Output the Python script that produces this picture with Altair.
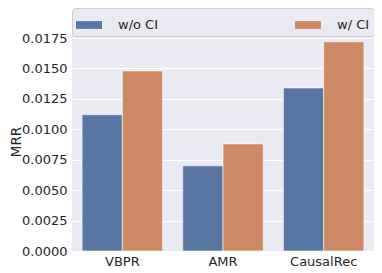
import altair as alt
import pandas as pd

models = ["VBPR", "AMR", "CausalRec"]
series = ["w/o CI", "w/ CI"]
wo_ci = [0.0112, 0.0070, 0.0134]
w_ci = [0.0148, 0.0088, 0.0172]
y_ticks = [0.0, 0.0025, 0.005, 0.0075, 0.01, 0.0125, 0.015, 0.0175]
colors = ["#5975a4", "#cc8963"]

rows = []
for m, a, b in zip(models, wo_ci, w_ci):
    rows.append({"model": m, "setting": series[0], "MRR": a})
    rows.append({"model": m, "setting": series[1], "MRR": b})
df = pd.DataFrame(rows)

font = "DejaVu Sans"

chart = alt.Chart(df).mark_bar(stroke="#ffffff", strokeWidth=0.6).encode(
    x=alt.X("model:N", sort=models,
            scale=alt.Scale(paddingInner=0.2, paddingOuter=0.1),
            axis=alt.Axis(title=None, labelAngle=0, labelFontSize=13, labelPadding=4,
                          ticks=False, domain=False, grid=False, labelColor="#262626", labelFont=font)),
    xOffset=alt.XOffset("setting:N", sort=series, scale=alt.Scale(paddingInner=0, paddingOuter=0)),
    y=alt.Y("MRR:Q", scale=alt.Scale(domain=[0, 0.018], nice=False),
            axis=alt.Axis(title="MRR", values=y_ticks, format=".4f", labelFontSize=13,
                          labelPadding=5, ticks=False, domain=False, gridColor="#ffffff",
                          gridWidth=1, labelColor="#262626", titleColor="#262626",
                          titleFontSize=13.5, titleFontWeight="normal", titleFont=font,
                          labelFont=font, titlePadding=-2)),
    color=alt.Color("setting:N", sort=series,
                    scale=alt.Scale(domain=series, range=colors),
                    legend=alt.Legend(title=None, orient="none", legendX=0, legendY=-24,
                                      direction="horizontal", columns=2, columnPadding=136,
                                      symbolType="M-1,-0.3H1V0.3H-1Z", symbolSize=676,
                                      symbolStrokeWidth=0, labelOffset=16, gridAlign="each",
                                      labelFontSize=13, labelColor="#262626", labelFont=font,
                                      padding=4, fillColor="#eaeaf2", strokeColor="#cccccc",
                                      cornerRadius=3)),
).properties(
    width=302, height=219,
    autosize=alt.AutoSizeParams(type="none"),
    padding={"left": 64, "top": 24, "right": 0, "bottom": 19},
).configure_view(
    fill="#eaeaf2", stroke=None
)

chart.save("out.html", embed_options={"renderer": "svg", "actions": False})
